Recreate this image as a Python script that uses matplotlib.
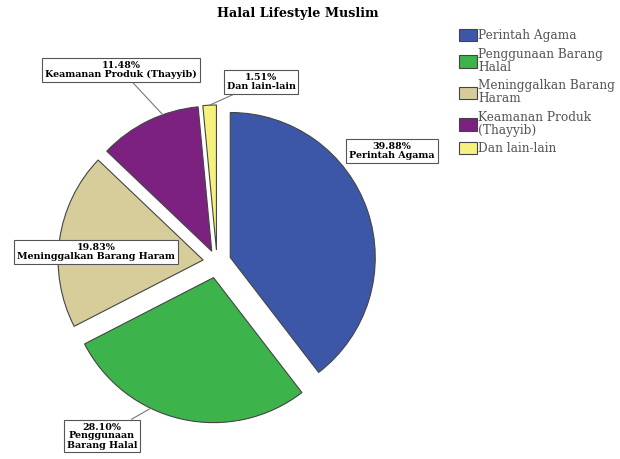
import matplotlib.pyplot as plt
import numpy as np

# data
categories = ['Perintah Agama', 'Penggunaan Barang Halal', 'Meninggalkan Barang Haram',
              'Keamanan Produk (Thayyib)', 'Dan lain-lain']
legend_labels = ['Perintah Agama', 'Penggunaan Barang\nHalal', 'Meninggalkan Barang\nHaram',
                 'Keamanan Produk\n(Thayyib)', 'Dan lain-lain']
box_labels = ['Perintah Agama', 'Penggunaan\nBarang Halal', 'Meninggalkan Barang Haram',
              'Keamanan Produk (Thayyib)', 'Dan lain-lain']
values = [39.88, 28.10, 19.83, 11.48, 1.51]

colors = ['#3d57a8', '#3cb44b', '#d6cd9b', '#7d2181', '#f4f27c']
explode = [14, 16, 14, 12, 12]

# label box centres (pixels from top-left) and where the leader hits the wedge (fraction of arc)
box_pos = [(392, 151), (102, 436), (96, 252), (121, 70), (261, 82)]
anchor_frac = [None, 0.63, None, 0.65, 0.5]

W, H = 620, 459
fig = plt.figure(figsize=(W / 100, H / 100), dpi=100)
ax = fig.add_axes([0, 0, 1, 1])

R = 145
wedges, _ = ax.pie(values, colors=colors, explode=explode, startangle=90,
                   counterclock=False, radius=R, center=(217, H - 262),
                   wedgeprops=dict(edgecolor='#444444', linewidth=0.8), frame=True)
ax.set_xlim(0, W)
ax.set_ylim(0, H)
ax.set_aspect('equal')
ax.axis('off')

for w, v, lab, (bx, by), f in zip(wedges, values, box_labels, box_pos, anchor_frac):
    txt = '%.2f%%\n%s' % (v, lab)
    if f is None:
        ax.text(bx, H - by, txt, ha='center', va='center', fontsize=6.8,
                fontweight='bold', family='DejaVu Serif', linespacing=1.0,
                bbox=dict(boxstyle='square,pad=0.3', fc='white', ec='#555555', lw=0.8))
    else:
        ang = np.deg2rad(w.theta2 - f * (w.theta2 - w.theta1))
        cx, cy = w.center
        xy = (cx + w.r * np.cos(ang), cy + w.r * np.sin(ang))
        ax.annotate(txt, xy=xy, xytext=(bx, H - by), ha='center', va='center',
                    fontsize=6.8, fontweight='bold', family='DejaVu Serif', linespacing=1.0,
                    bbox=dict(boxstyle='square,pad=0.3', fc='white', ec='#555555', lw=0.8),
                    arrowprops=dict(arrowstyle='-', color='#777777', lw=0.8,
                                    shrinkA=0, shrinkB=0))

fig.text(298 / W, 1 - 14 / H, 'Halal Lifestyle Muslim', ha='center', va='center',
         fontsize=9.2, fontweight='bold', family='DejaVu Serif')

leg = fig.legend(wedges, legend_labels, loc='upper left', bbox_to_anchor=(459 / W, 1 - 29 / H),
                 frameon=False, fontsize=8.7, handlelength=1.45, handleheight=1.2,
                 handletextpad=0.15, labelspacing=0.45, borderaxespad=0, borderpad=0)
for t in leg.get_texts():
    t.set_family('DejaVu Serif')
    t.set_color('#555555')
    t.set_linespacing(1.0)

fig.savefig('out.png', dpi=100)
